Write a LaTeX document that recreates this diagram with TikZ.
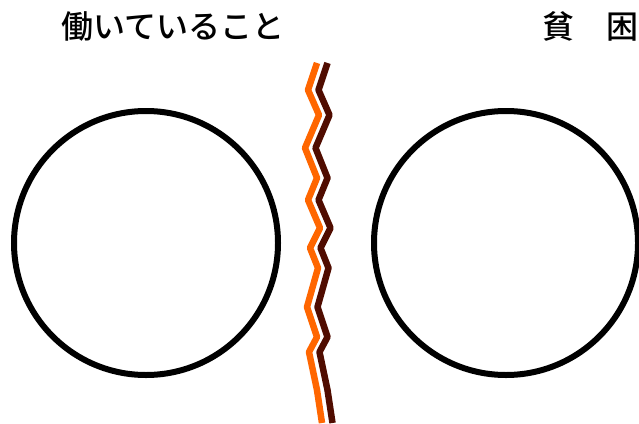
\documentclass[tikz,border=0pt]{standalone}
\usepackage{fontspec}
\newfontfamily\jpfont{Noto Sans CJK JP Medium}
\definecolor{zigorange}{RGB}{255,102,0}
\definecolor{zigbrown}{RGB}{80,12,0}
\tikzset{
  ring/.style={circle, draw, line width=6pt, minimum size=264pt, inner sep=0pt},
  title/.style={font=\jpfont\fontsize{32}{36}\selectfont, inner sep=0pt},
  zig/.style={line width=6.5pt, line join=round, line cap=butt}
}
\begin{document}
\begin{tikzpicture}[x=1pt, y=-1pt]
	\useasboundingbox (0, 0) rectangle (639, 423);

	\node (work) [title] at (173, 26) {働いていること};
    \node (poor) [title] at (590, 26) {貧　困};

    \node (cL) [ring] at (146, 243) {};
    \node (cR) [ring] at (506, 243) {};

    % crack between the two circles
    \draw[zig, zigbrown, xshift=10.5pt] plot coordinates {(317,63) (308,90) (319,115) (305,148) (317,178) (308,200) (320,228) (310,248) (318,268) (307,307) (317,337) (309,352) (317,390) (322,423)};
    \draw[zig, zigorange] plot coordinates {(317,63) (308,90) (319,115) (305,148) (317,178) (308,200) (320,228) (310,248) (318,268) (307,307) (317,337) (309,352) (317,390) (322,423)};

\end{tikzpicture}
\end{document}
